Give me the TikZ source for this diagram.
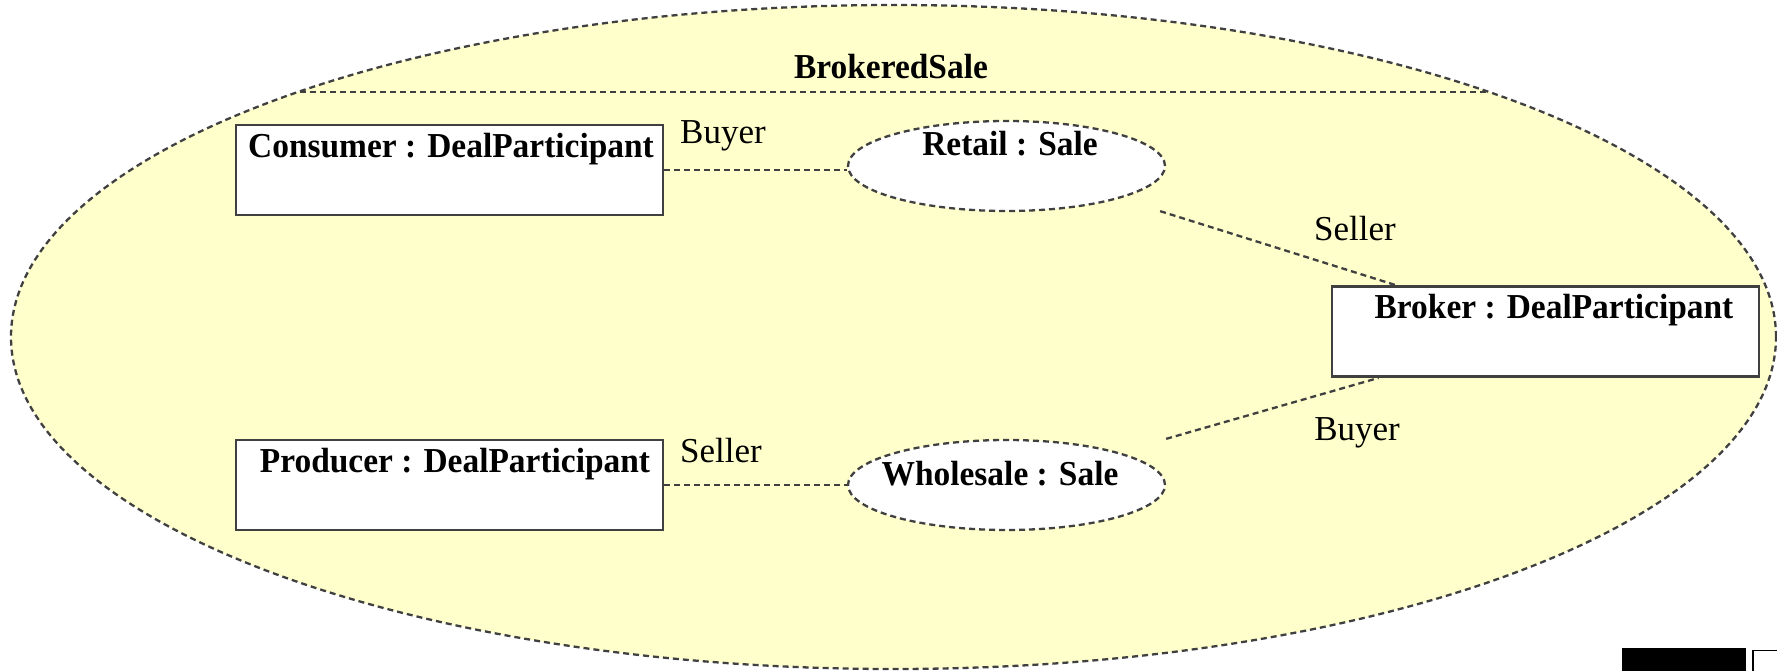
\documentclass[tikz,border=0pt]{standalone}
\usepackage{fontspec}
\setmainfont{Liberation Serif}
\newfontfamily\condbold[FakeStretch=0.955]{Liberation Serif}
\usetikzlibrary{shapes.geometric,calc}
\definecolor{fillyellow}{HTML}{FFFFCC}
\definecolor{linegray}{HTML}{404040}
\begin{document}
\begin{tikzpicture}[x=1pt,y=-1pt,
  dline/.style={draw=linegray, line width=2.3pt, dash pattern=on 6pt off 4pt},
  partbox/.style={rectangle, draw=linegray, fill=white, line width=2.8pt, minimum width=427pt, minimum height=90pt, inner sep=0pt},
  saleell/.style={ellipse, dline, fill=white, minimum width=317pt, minimum height=90pt, inner sep=0pt},
  boldlbl/.style={font=\condbold\fontsize{35}{42}\selectfont\bfseries, inner sep=0pt},
  rolelbl/.style={font=\fontsize{35}{42}\selectfont, inner sep=0pt}
]
\useasboundingbox (0,0) rectangle (1777,671);
% collaboration ellipse
\node[ellipse, dline, fill=fillyellow, minimum width=1765pt, minimum height=664pt, inner sep=0pt] (brokered) at (893.5,337) {};
\coordinate (hl) at (300,92);
\coordinate (hr) at (1487,92);
\draw[dline] (hl) -- (hr);
\node[boldlbl] (title) at (891,67) {BrokeredSale};
% participants
\node[partbox] (consumer) at (449.5,170) {};
\node[partbox] (producer) at (449.5,485) {};
\node[partbox] (broker) at (1545.5,331.5) {};
\node[boldlbl] (consumerlbl) at ($(consumer.north)+(1.5,25)$) {Consumer : DealParticipant};
\node[boldlbl] (producerlbl) at ($(producer.north)+(5.5,25)$) {Producer : DealParticipant};
\node[boldlbl] (brokerlbl) at ($(broker.north)+(8.5,25)$) {Broker : DealParticipant};
% sales
\node[saleell] (retail) at (1006.5,166) {};
\node[saleell] (wholesale) at (1006.5,485) {};
\node[boldlbl] (retaillbl) at ($(retail.center)+(3.5,-22)$) {Retail : Sale};
\node[boldlbl] (wholesalelbl) at ($(wholesale.center)+(-6.5,-11)$) {Wholesale : Sale};
% connectors
\draw[dline] (consumer.east) -- (consumer.east -| retail.west);
\draw[dline] (producer.east) -- (wholesale.west);
\draw[dline] ($(retail.east |- retail.south)+(-6,-1)$) -- ($(broker.north west)+(65,0)$);
\draw[dline] (wholesale.east |- wholesale.north) -- ($(broker.south west)+(48,0)$);
% role labels
\node[rolelbl] (r1) at (723,136) {Buyer};
\node[rolelbl] (r2) at (1355,229) {Seller};
\node[rolelbl] (r3) at (1357,433) {Buyer};
\node[rolelbl] (r4) at (721,451) {Seller};
% corner marks
\node[rectangle, fill=black, inner sep=0pt, minimum width=124pt, minimum height=23pt] (blk) at (1684,659.5) {};
\node[rectangle, draw=black, line width=1.5pt, fill=white, inner sep=0pt, minimum width=40pt, minimum height=30pt, anchor=north west] (wbox) at (1752,649.5) {};
\end{tikzpicture}
\end{document}
